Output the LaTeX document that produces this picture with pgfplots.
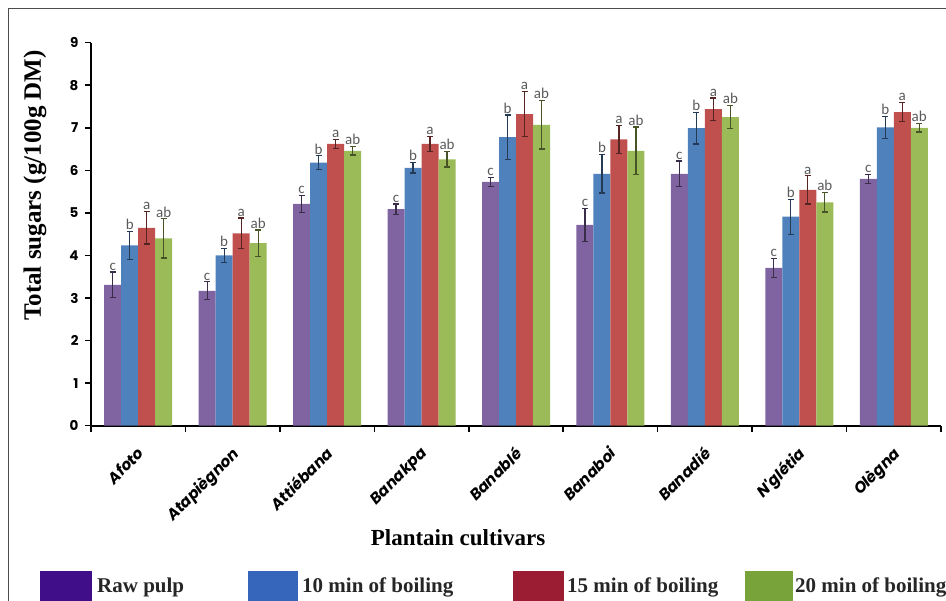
\documentclass[border=0pt]{standalone}
\usepackage{pgfplots}
\pgfplotsset{compat=1.18}
\usepackage{pgfplotstable}
\usepackage{fontspec}
\setmainfont{Liberation Serif}
\newfontfamily\gothic{Poppins}
\newfontfamily\calib{Carlito}
\definecolor{cpur}{HTML}{8064A2}
\definecolor{cblu}{HTML}{4F81BD}
\definecolor{cred}{HTML}{C0504D}
\definecolor{cgrn}{HTML}{9BBB59}
\definecolor{lpur}{HTML}{3F0E88}
\definecolor{lblu}{HTML}{3566BC}
\definecolor{lred}{HTML}{9A1D33}
\definecolor{lgrn}{HTML}{78A23A}
\definecolor{labgray}{HTML}{5A5A5A}

\pgfplotstableread{
x y e l
0 3.31 0.30 c
1 3.17 0.21 c
2 5.21 0.20 c
3 5.09 0.12 c
4 5.73 0.10 c
5 4.72 0.39 c
6 5.92 0.30 c
7 3.71 0.22 c
8 5.80 0.11 c
}\rawdata
\pgfplotstableread{
x y e l
0 4.24 0.33 b
1 4.00 0.17 b
2 6.18 0.16 b
3 6.06 0.12 b
4 6.78 0.52 b
5 5.92 0.45 b
6 6.99 0.37 b
7 4.91 0.41 b
8 7.01 0.26 b
}\tenmin
\pgfplotstableread{
x y e l
0 4.65 0.38 a
1 4.52 0.36 a
2 6.62 0.10 a
3 6.62 0.17 a
4 7.32 0.53 a
5 6.73 0.33 a
6 7.44 0.26 a
7 5.54 0.33 a
8 7.37 0.22 a
}\fifteenmin
\pgfplotstableread{
x y e l
0 4.40 0.46 ab
1 4.29 0.31 ab
2 6.46 0.10 ab
3 6.26 0.18 ab
4 7.07 0.57 ab
5 6.46 0.56 ab
6 7.25 0.27 ab
7 5.25 0.23 ab
8 7.00 0.10 ab
}\twentymin

\pgfplotsset{
  mylab/.style={
    nodes near coords,
    point meta=explicit symbolic,
    visualization depends on={\thisrow{e}\as\err},
    every node near coord/.append style={
      shift={(axis direction cs:0,\err)},
      font=\calib\fontsize{15}{15}\selectfont,
      text=labgray, inner sep=1.5pt, anchor=south}
  },
  myerr/.style={
    error bars/.cd, y dir=both, y explicit,
    error bar style={line width=1.2pt, color=#1},
    error mark options={rotate=90, mark size=3pt, line width=1.2pt, color=#1}
  }
}

\begin{document}
\begin{tikzpicture}
\useasboundingbox (-91pt,-175.3pt) rectangle (855pt,425.7pt);
\draw[line width=1pt, gray!60!black] (-82pt,-176pt) -- (-82pt,416.7pt) -- (856pt,416.7pt);
\begin{axis}[
  at={(0pt,0pt)}, anchor=south west,
  scale only axis, width=850pt, height=383pt,
  xmin=-0.5, xmax=8.5, ymin=0, ymax=9,
  ybar, bar width=0.18,
  axis x line*=bottom, axis y line*=left,
  axis line style={line width=2pt, black, -},
  ytick={0,...,9},
  xtick={0,...,8},
  xticklabels={Afoto, Atapiègnon, Attiébana, Banakpa, Banablé, Banaboi, Banadié, N'glétia, Olègna},
  minor xtick={-0.5,0.5,...,8.5},
  tick align=outside,
  major tick length=6pt,
  minor tick length=6pt,
  major x tick style={draw=none},
  minor x tick style={line width=1.5pt, black},
  y tick style={line width=1.5pt, black},
  /pgf/number format/assume math mode=true,
  yticklabel style={font=\gothic\bfseries\fontsize{13.5}{13.5}\selectfont, xshift=-3pt},
  xticklabel style={xshift=-2pt, yshift=-14pt, rotate=45, anchor=north east, inner sep=0pt,
    font=\gothic\bfseries\itshape\fontsize{15.5}{15.5}\selectfont},
  ylabel={Total sugars (g/100g DM)},
  every axis y label/.style={at={(axis description cs:-0.0659,0.627)}, rotate=90, anchor=center,
    font=\bfseries\fontsize{25}{25}\selectfont},
  xlabel={Plantain cultivars},
  every axis x label/.style={at={(axis description cs:0.4318,-0.3122)}, anchor=base,
    font=\bfseries\fontsize{23}{23}\selectfont},
]
\addplot[fill=cpur, draw=none, bar shift=-0.27, mylab, myerr=cpur!45!black]
  table[x=x, y=y, y error=e, meta=l] {\rawdata};
\addplot[fill=cblu, draw=none, bar shift=-0.09, mylab, myerr=cblu!45!black]
  table[x=x, y=y, y error=e, meta=l] {\tenmin};
\addplot[fill=cred, draw=none, bar shift=0.09, mylab, myerr=cred!45!black]
  table[x=x, y=y, y error=e, meta=l] {\fifteenmin};
\addplot[fill=cgrn, draw=none, bar shift=0.27, mylab, myerr=cgrn!45!black]
  table[x=x, y=y, y error=e, meta=l] {\twentymin};
\end{axis}
% legend
\fill[lpur] (-51pt,-145.3pt) rectangle (1pt,-176pt);
\fill[lblu] (157pt,-145.3pt) rectangle (207pt,-176pt);
\fill[lred] (422pt,-145.3pt) rectangle (473pt,-176pt);
\fill[lgrn] (654pt,-145.3pt) rectangle (702pt,-176pt);
\begin{scope}[every node/.style={anchor=base west, inner sep=0pt, font=\bfseries\fontsize{21}{21}\selectfont, text=black!85}]
\node at (6pt,-167.3pt) {Raw pulp};
\node at (211pt,-167.3pt) {10 min of boiling};
\node at (476pt,-167.3pt) {15 min of boiling};
\node at (704pt,-167.3pt) {20 min of boiling};
\end{scope}
\end{tikzpicture}
\end{document}
